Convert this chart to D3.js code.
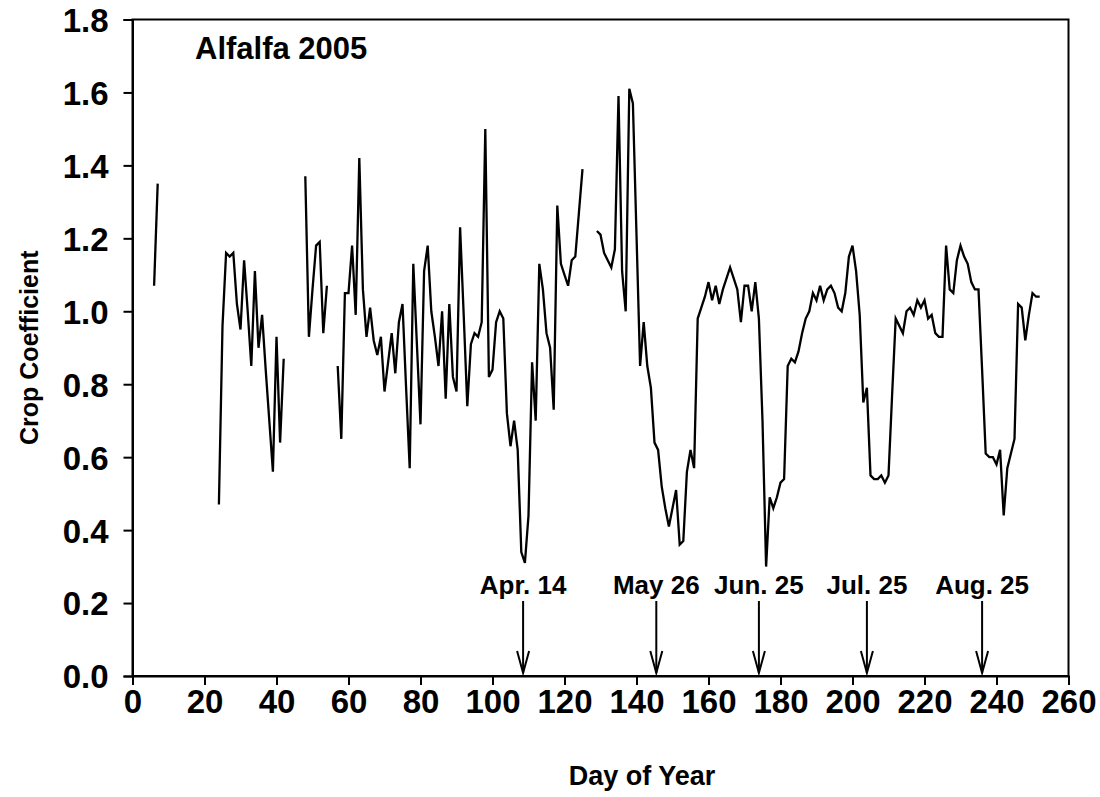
<!DOCTYPE html>
<html>
<head>
<meta charset="utf-8">
<script src="https://cdn.jsdelivr.net/npm/d3@7"></script>
<style>
  html, body { margin: 0; padding: 0; background: #fff; }
  svg { display: block; font-family: "Liberation Sans", Arial, sans-serif; }
</style>
</head>
<body>
<div id="chart"></div>
<script>
// Crop coefficient, alfalfa 2005 - daily values, broken into runs where data exists
const runStartDays = [6, 24, 48, 57, 129];

const run1 = [1.07, 1.35];
const run2 = [0.47, 0.96, 1.16, 1.15, 1.16, 1.02, 0.95, 1.14, 1.00, 0.85,
  1.11, 0.90, 0.99, 0.84, 0.70, 0.56, 0.93, 0.64, 0.87];
const run3 = [1.37, 0.93, 1.06, 1.18, 1.19, 0.94, 1.07];
const run4 = [0.85, 0.65, 1.05, 1.05, 1.18, 0.99, 1.42, 1.06, 0.93, 1.01,
  0.92, 0.88, 0.93, 0.78, 0.86, 0.94, 0.83, 0.97, 1.02, 0.79,
  0.57, 1.13, 0.91, 0.69, 1.11, 1.18, 1.00, 0.93, 0.85, 1.00,
  0.76, 1.02, 0.82, 0.78, 1.23, 0.99, 0.74, 0.91, 0.94, 0.93,
  0.97, 1.50, 0.82, 0.84, 0.97, 1.00, 0.98, 0.72, 0.63, 0.70,
  0.62, 0.34, 0.31, 0.44, 0.86, 0.70, 1.13, 1.06, 0.94, 0.90,
  0.73, 1.29, 1.13, 1.10, 1.07, 1.14, 1.15, 1.27, 1.39];
const run5 = [1.22, 1.21, 1.16, 1.14, 1.12, 1.17, 1.59, 1.11, 1.00, 1.61,
  1.57, 1.21, 0.85, 0.97, 0.85, 0.79, 0.64, 0.62, 0.52, 0.46,
  0.41, 0.46, 0.51, 0.36, 0.37, 0.56, 0.62, 0.57, 0.98, 1.01,
  1.04, 1.08, 1.03, 1.07, 1.02, 1.06, 1.09, 1.12, 1.09, 1.06,
  0.97, 1.07, 1.07, 1.00, 1.08, 0.98, 0.70, 0.30, 0.49, 0.46,
  0.49, 0.53, 0.54, 0.85, 0.87, 0.86, 0.89, 0.94, 0.98, 1.00,
  1.05, 1.03, 1.07, 1.03, 1.06, 1.07, 1.05, 1.01, 1.00, 1.05,
  1.15, 1.18, 1.11, 0.99, 0.75, 0.79, 0.55, 0.54, 0.54, 0.55,
  0.53, 0.55, 0.77, 0.98, 0.96, 0.94, 1.00, 1.01, 0.99, 1.03,
  1.01, 1.03, 0.98, 0.99, 0.94, 0.93, 0.93, 1.18, 1.06, 1.05,
  1.14, 1.18, 1.15, 1.13, 1.08, 1.06, 1.06, 0.84, 0.61, 0.60,
  0.60, 0.58, 0.62, 0.44, 0.57, 0.61, 0.65, 1.02, 1.01, 0.92,
  0.99, 1.05, 1.04, 1.04];

const runs = [run1, run2, run3, run4, run5];

// cutting dates marked with arrows
const cutLabels = ['Apr. 14', 'May 26', 'Jun. 25', 'Jul. 25', 'Aug. 25'];
const cutDays = [108.5, 145.5, 174, 204, 236];

const xTicks = d3.range(0, 261, 20);
const yTicks = [0, 0.2, 0.4, 0.6, 0.8, 1.0, 1.2, 1.4, 1.6, 1.8];

const width = 1100, height = 797;
const margin = { top: 19.5, right: 31.5, bottom: 121, left: 132.5 };

const svg = d3.select('#chart').append('svg')
  .attr('width', width)
  .attr('height', height);

const x = d3.scaleLinear().domain([0, 260]).range([margin.left, width - margin.right]);
const y = d3.scaleLinear().domain([0, 1.8]).range([height - margin.bottom, margin.top]);

// frame
svg.append('rect')
  .attr('x', x(0)).attr('y', y(1.8))
  .attr('width', x(260) - x(0)).attr('height', y(0) - y(1.8))
  .attr('fill', 'none').attr('stroke', '#000').attr('stroke-width', 2);

// axes
const xAxis = svg.append('g')
  .attr('transform', `translate(0,${y(0)})`)
  .call(d3.axisBottom(x).tickValues(xTicks).tickSize(9).tickPadding(5).tickFormat(d3.format('d')));
const yAxis = svg.append('g')
  .attr('transform', `translate(${x(0)},0)`)
  .call(d3.axisLeft(y).tickValues(yTicks).tickSize(9).tickPadding(15).tickFormat(d3.format('.1f')));

[xAxis, yAxis].forEach(g => {
  g.select('.domain').attr('stroke-width', 2);
  g.selectAll('.tick line').attr('stroke-width', 2);
  g.selectAll('.tick text')
    .attr('fill', '#000')
    .style('font-size', '33px')
    .style('font-weight', 'bold');
});
yAxis.selectAll('.tick text').attr('dy', '0.36em');

// data line
const line = d3.line()
  .x(d => x(d[0]))
  .y(d => y(d[1]));

runs.forEach((run, i) => {
  const pts = run.map((v, j) => [runStartDays[i] + j, v]);
  svg.append('path')
    .datum(pts)
    .attr('d', line)
    .attr('fill', 'none')
    .attr('stroke', '#000')
    .attr('stroke-width', 2.3)
    .attr('stroke-linejoin', 'miter');
});

// cut arrows + labels
const arrows = svg.append('g');
cutDays.forEach((d, i) => {
  const ax = x(d);
  const tip = y(0) - 3;
  arrows.append('line')
    .attr('x1', ax).attr('x2', ax)
    .attr('y1', 601).attr('y2', tip)
    .attr('stroke', '#000').attr('stroke-width', 2);
  arrows.append('path')
    .attr('d', `M${ax - 6},${tip - 22} L${ax},${tip} L${ax + 6},${tip - 22}`)
    .attr('fill', 'none').attr('stroke', '#000').attr('stroke-width', 2);
  arrows.append('text')
    .attr('x', ax).attr('y', 594)
    .attr('text-anchor', 'middle')
    .style('font-size', '26px').style('font-weight', 'bold')
    .text(cutLabels[i]);
});

// titles
svg.append('text')
  .attr('x', 195).attr('y', 59)
  .style('font-size', '31px').style('font-weight', 'bold')
  .text('Alfalfa 2005');

svg.append('text')
  .attr('x', 642).attr('y', 785)
  .attr('text-anchor', 'middle')
  .style('font-size', '27px').style('font-weight', 'bold')
  .text('Day of Year');

svg.append('text')
  .attr('transform', `translate(38,${(y(0) + y(1.8)) / 2}) rotate(-90)`)
  .attr('text-anchor', 'middle')
  .style('font-size', '25px').style('font-weight', 'bold')
  .text('Crop Coefficient');
</script>
</body>
</html>
